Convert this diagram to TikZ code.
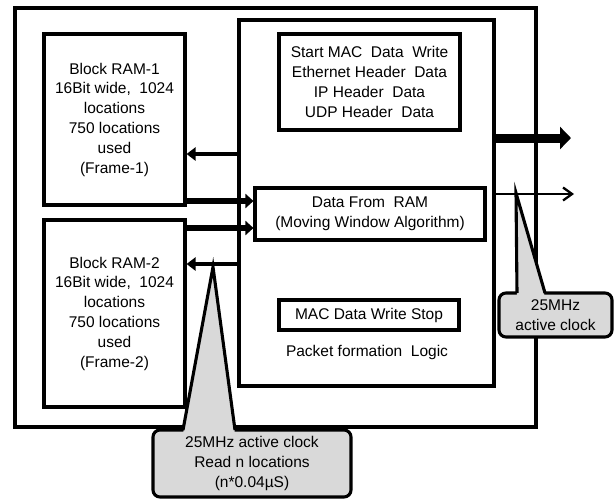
\documentclass[tikz,border=0pt]{standalone}
\usepackage{fontspec}
\setmainfont{Liberation Sans}
\usetikzlibrary{arrows.meta,calc}
\definecolor{calloutgray}{HTML}{D9D9D9}
\tikzset{
  blk/.style={draw,line width=3.1pt,inner sep=0pt,align=center,
    font=\fontsize{15.5}{19.8}\selectfont},
  txt/.style={inner sep=0pt,align=center,font=\fontsize{15.5}{19.8}\selectfont},
  backarr/.style={line width=3.2pt,-{Triangle[length=9pt,width=13pt]}},
  busarr/.style={line width=5.5pt,-{Triangle[length=8pt,width=14pt]}},
  bigarr/.style={line width=9pt,-{Triangle[length=11pt,width=22pt]}},
  sigarr/.style={line width=2.1pt,-{Straight Barb[length=9pt,width=13pt,line width=2.3pt]}},
  cbox/.style={draw,fill=calloutgray,line width=3.1pt,rounded corners=7pt,
    inner sep=0pt,align=center,font=\fontsize{15.5}{19.8}\selectfont},
  tail/.style={line width=3.1pt,line join=miter},
}
\begin{document}
\begin{tikzpicture}[x=1pt,y=-1pt]
\useasboundingbox (0,0) rectangle (615,498);

% enclosing FPGA block
\node[blk,minimum width=521pt,minimum height=419pt] (outer) at (275.5,217.5) {};

% the two frame buffers
\node[blk,minimum width=141pt,minimum height=171pt] (ram1) at (114.5,119.5)
  {Block RAM-1\\16Bit wide,\ \ 1024\\locations\\750 locations\\used\\(Frame-1)};
\node[blk,minimum width=141pt,minimum height=187pt] (ram2) at (114.5,313.5)
  {Block RAM-2\\16Bit wide,\ \ 1024\\locations\\750 locations\\used\\(Frame-2)};

% packet formation logic and its stages
\node[blk,minimum width=255pt,minimum height=366pt] (logic) at (366.5,203) {};
\node[blk,minimum width=181pt,minimum height=96pt] (hdr) at (369.5,82)
  {Start MAC\ \ Data\ \ Write\\Ethernet Header\ \ Data\\IP Header\ \ Data\\UDP Header\ \ Data};
\node[blk,minimum width=230pt,minimum height=52pt] (data) at (370,214)
  {Data From\ \ RAM\\(Moving Window Algorithm)};
\node[blk,minimum width=180pt,minimum height=30pt] (stop) at (369,315)
  {MAC Data Write Stop};
\node[txt] (plabel) at (367,352) {Packet formation\ \ Logic};

% connections between RAMs and logic
\draw[backarr] (logic.west |- 0,154) -- (ram1.east |- 0,154);
\draw[busarr]  (ram1.east |- 0,201) -- (data.west |- 0,201);
\draw[busarr]  (ram2.east |- 0,228) -- (data.west |- 0,228);
\draw[backarr] (logic.west |- 0,264) -- (ram2.east |- 0,264);

% outputs
\coordinate (busout) at (571,138);
\coordinate (clkout) at (574,194);
\draw[bigarr] (logic.east |- busout) -- (busout);
\draw[sigarr] (logic.east |- clkout) -- (clkout);

% callout: output clock
\node[cbox,minimum width=113pt,minimum height=44pt] (clk1) at (555.5,315)
  {25MHz\\active clock};
\coordinate (tip1) at (516,193);
\fill[calloutgray] (517,297) -- (tip1) -- (545,297) -- cycle;
\draw[tail] (517,293) -- (tip1) -- (545,293);

% callout: read clock
\node[cbox,minimum width=198pt,minimum height=67pt] (clk2) at (252,463.5)
  {25MHz active clock\\Read n locations\\(n*0.04µS)};
\coordinate (tip2) at (213,267);
\fill[calloutgray] (183,434) -- (tip2) -- (235,434) -- cycle;
\draw[tail] (183,430) -- (tip2) -- (235,430);
\end{tikzpicture}
\end{document}
